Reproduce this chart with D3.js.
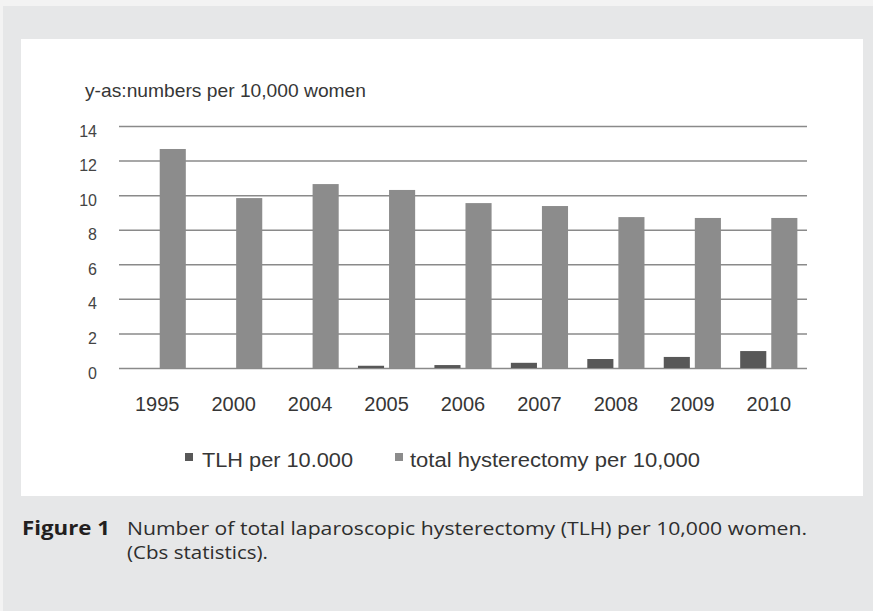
<!DOCTYPE html>
<html>
<head>
<meta charset="utf-8">
<script src="https://cdn.jsdelivr.net/npm/d3@7"></script>
<style>
  body { margin: 0; background: #f3f3f3; }
  svg { display: block; }
</style>
</head>
<body>
<script>
const width = 873;
const height = 611;

// data
const years = ["1995", "2000", "2004", "2005", "2006", "2007", "2008", "2009", "2010"];
const tlhValues = [0, 0, 0, 0.13, 0.17, 0.3, 0.52, 0.64, 0.98];
const totalValues = [12.67, 9.83, 10.64, 10.3, 9.54, 9.37, 8.73, 8.68, 8.68];
const seriesKeys = ["tlh", "total"];
const seriesLabels = ["TLH per 10.000", "total hysterectomy per 10,000"];
const yTicks = [0, 2, 4, 6, 8, 10, 12, 14];
const yTitle = "y-as:numbers per 10,000 women";
const captionBold = "Figure 1";
const captionLines = ["Number of total laparoscopic hysterectomy (TLH) per 10,000 women.", "(Cbs statistics)."];

const colors = { tlh: "#585858", total: "#8c8c8c" };

const rows = years.map((y, i) => ({ year: y, tlh: tlhValues[i], total: totalValues[i] }));

const svg = d3.select("body")
    .append("svg")
    .attr("width", width)
    .attr("height", height);

// page background + white chart panel
svg.append("rect")
    .attr("x", 3).attr("y", 6)
    .attr("width", width - 3).attr("height", height - 6)
    .attr("fill", "#e6e7e8");

svg.append("rect")
    .attr("x", 21).attr("y", 39)
    .attr("width", 842).attr("height", 457)
    .attr("fill", "#ffffff");

const x = d3.scaleBand()
    .domain(years)
    .range([119, 807])
    .padding(0);

const xInner = d3.scaleBand()
    .domain(seriesKeys)
    .range([0, x.bandwidth()])
    .paddingInner(0.16)
    .paddingOuter(0.31);

const y = d3.scaleLinear()
    .domain([0, 14])
    .range([368, 126]);

// gridlines + y labels
const yAxis = svg.append("g")
    .attr("transform", "translate(119,0)")
    .call(d3.axisLeft(y)
        .tickValues(yTicks)
        .tickSize(-(807 - 119))
        .tickPadding(22));

yAxis.select(".domain").remove();
yAxis.selectAll(".tick line")
    .attr("stroke", "#8a8a8a")
    .attr("stroke-width", 1.5);
yAxis.selectAll(".tick text")
    .attr("dy", 10)
    .attr("fill", "#444")
    .attr("font-family", "Liberation Sans, Arial, sans-serif")
    .attr("font-size", 16);

// bars
svg.append("g")
    .selectAll("g")
    .data(rows)
    .join("g")
    .attr("transform", d => `translate(${x(d.year)},0)`)
    .selectAll("rect")
    .data(d => seriesKeys.map(k => ({ key: k, value: d[k] })))
    .join("rect")
    .attr("x", d => xInner(d.key))
    .attr("y", d => y(d.value))
    .attr("width", xInner.bandwidth())
    .attr("height", d => y(0) - y(d.value))
    .attr("fill", d => colors[d.key]);

// x labels
svg.append("g")
    .selectAll("text")
    .data(years)
    .join("text")
    .attr("x", d => x(d) + x.bandwidth() / 2)
    .attr("y", 411)
    .attr("text-anchor", "middle")
    .attr("fill", "#363636")
    .attr("font-family", "Liberation Sans, Arial, sans-serif")
    .attr("font-size", 20)
    .text(d => d);

// y title
svg.append("text")
    .attr("x", 85)
    .attr("y", 97)
    .attr("fill", "#363636")
    .attr("font-family", "Liberation Sans, Arial, sans-serif")
    .attr("font-size", 19)
    .attr("textLength", 281)
    .attr("lengthAdjust", "spacingAndGlyphs")
    .text(yTitle);

// legend
const legendX = [185, 395];
const legendTextLen = [151, 290];
const legend = svg.append("g")
    .selectAll("g")
    .data(seriesKeys)
    .join("g")
    .attr("transform", (d, i) => `translate(${legendX[i]},0)`);

legend.append("rect")
    .attr("x", 0).attr("y", 453)
    .attr("width", 8).attr("height", 8)
    .attr("fill", d => colors[d]);

legend.append("text")
    .attr("x", (d, i) => i === 0 ? 17 : 15)
    .attr("y", 467)
    .attr("fill", "#363636")
    .attr("font-family", "Liberation Sans, Arial, sans-serif")
    .attr("font-size", 20)
    .attr("textLength", (d, i) => legendTextLen[i])
    .attr("lengthAdjust", "spacingAndGlyphs")
    .text((d, i) => seriesLabels[i]);

// caption
svg.append("text")
    .attr("x", 22)
    .attr("y", 535)
    .attr("fill", "#231f20")
    .attr("font-family", "Open Sans, sans-serif")
    .attr("font-weight", "bold")
    .attr("font-size", 19)
    .attr("textLength", 88)
    .attr("lengthAdjust", "spacingAndGlyphs")
    .text(captionBold);

const captionLen = [680, 141];
svg.append("g")
    .selectAll("text")
    .data(captionLines)
    .join("text")
    .attr("x", 127)
    .attr("y", (d, i) => 535 + i * 24)
    .attr("fill", "#2e2e2e")
    .attr("font-family", "Open Sans, sans-serif")
    .attr("font-size", 18)
    .attr("textLength", (d, i) => captionLen[i])
    .attr("lengthAdjust", "spacingAndGlyphs")
    .text(d => d);
</script>
</body>
</html>
